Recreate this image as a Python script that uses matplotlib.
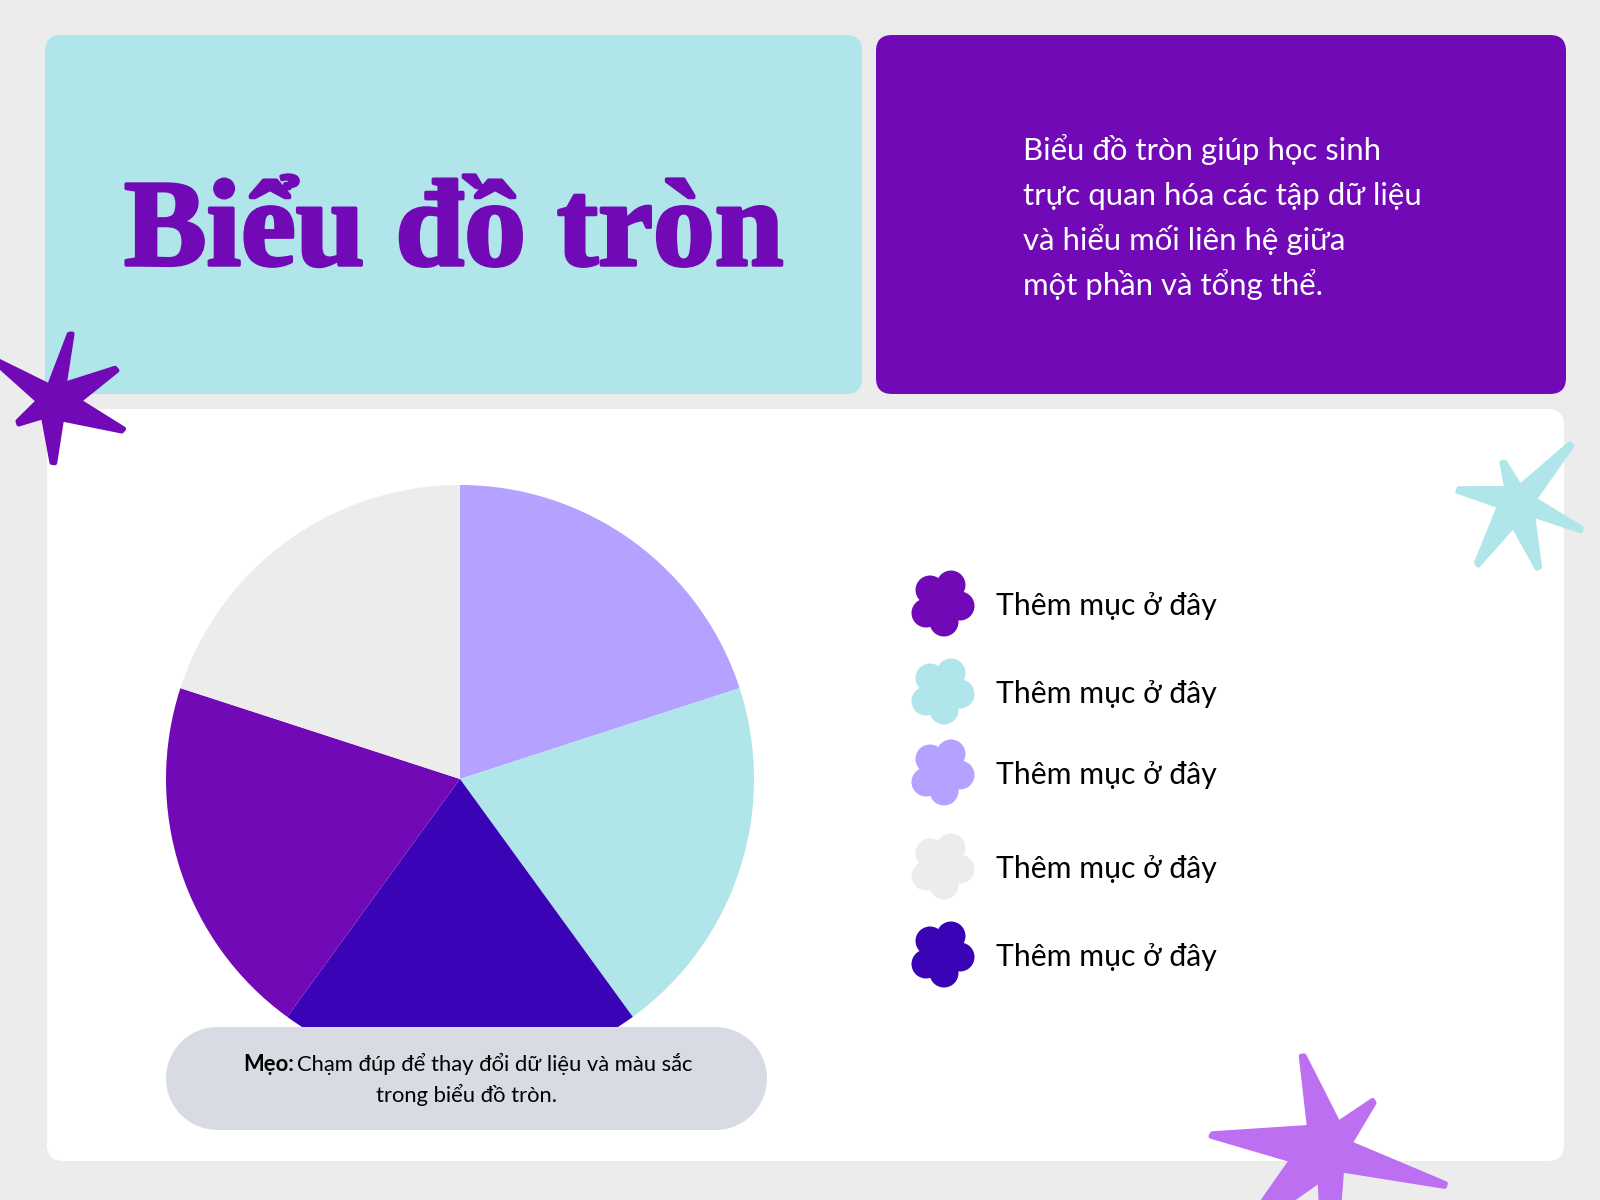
import numpy as np
import matplotlib
matplotlib.use("Agg")
import matplotlib.pyplot as plt
import matplotlib.patheffects as pe
from matplotlib.patches import FancyBboxPatch, Polygon, Circle, Rectangle

plt.rcParams['font.family'] = ['Lato', 'Noto Sans', 'DejaVu Sans']

# chart data
categories = ["Thêm mục ở đây"] * 5
slice_values = [20, 20, 20, 20, 20]
slice_colors = ["#B5A1FF", "#B0E5E9", "#3A03B5", "#7209B7", "#ECECEC"]
legend_colors = ["#7209B7", "#B0E5E9", "#B5A1FF", "#ECECEC", "#3A03B5"]
legend_rows = [603, 691, 772, 866, 954]

title = "Biểu đồ tròn"
intro_lines = ["Biểu đồ tròn giúp học sinh", "trực quan hóa các tập dữ liệu",
               "và hiểu mối liên hệ giữa", "một phần và tổng thể."]

BG = "#ECECEC"
CYAN = "#B0E5E9"
PURPLE = "#7209B7"
PILL = "#D8DBE3"


def Y(y):
    # picture pixels count from the top, the axes from the bottom
    return 1200 - y


def panel(x0, y0, x1, y1, color, r=16, z=1):
    ax.add_patch(FancyBboxPatch((x0 + r, Y(y1) + r), x1 - x0 - 2 * r, y1 - y0 - 2 * r,
                                boxstyle=f"round,pad={r},rounding_size={r}",
                                fc=color, ec="none", zorder=z))


def star(points, tips, x0, y0, color, z=6):
    pts = [np.array([x0 + px / 3, Y(y0 + py / 3)]) for px, py in points]
    xy = []
    for i, p in enumerate(pts):
        if i in tips:
            u = pts[(i + 1) % len(pts)] - pts[i - 1]
            u = u / np.hypot(*u)
            xy += [p - u * 1.5, p + u * 1.5]
        else:
            xy.append(p)
    ax.add_patch(Polygon(xy, closed=True, fc=color, ec=color, lw=3.5,
                         joinstyle="round", zorder=z))


def flower(cx, cy, color):
    ax.add_patch(Circle((cx, Y(cy)), 21, fc=color, ec="none", zorder=4))
    for dx, dy in [(8, -18), (17, 3), (1, 19), (-17, 10), (-13, -13)]:
        ax.add_patch(Circle((cx + dx, Y(cy + dy)), 14.5, fc=color, ec="none", zorder=4))


fig = plt.figure(figsize=(16, 12), dpi=100, facecolor=BG)
ax = fig.add_axes([0, 0, 1, 1])

panel(45, 35, 862, 394, CYAN)
panel(876, 35, 1566, 394, PURPLE)
panel(47, 409, 1564, 1161, "white", z=2)

wedges, _ = ax.pie(slice_values, colors=slice_colors, startangle=90, counterclock=False,
                   center=(460, Y(779)), radius=294, frame=True)
for w in wedges:
    w.set_zorder(3)

ax.set_xlim(0, 1600)
ax.set_ylim(0, 1200)
ax.set_aspect("equal")
ax.axis("off")

# title and intro
ax.text(454, Y(265), title, family="Liberation Serif", weight="bold", fontsize=89,
        color=PURPLE, ha="center", va="baseline", zorder=5,
        path_effects=[pe.withStroke(linewidth=2.5, foreground=PURPLE)])
for line, y in zip(intro_lines, [160, 205, 250, 295]):
    ax.text(1023, Y(y), line, fontsize=22.4, color="white", va="baseline", zorder=5)

# legend
for name, col, y in zip(categories, legend_colors, legend_rows):
    flower(943, y, col)
    ax.text(996, Y(y + 12), name, fontsize=21.7, color="black", va="baseline", zorder=5)

# tip box
ax.add_patch(Rectangle((217, Y(1130)), 499, 103, fc=PILL, ec="none", zorder=5))
ax.add_patch(Circle((217.5, Y(1078.5)), 51.5, fc=PILL, ec="none", zorder=5))
ax.add_patch(Circle((715.5, Y(1078.5)), 51.5, fc=PILL, ec="none", zorder=5))
ax.text(243, Y(1071), "Mẹo:", fontsize=15.8, weight="bold", color="black", va="baseline", zorder=6)
ax.text(297, Y(1071), "Chạm đúp để thay đổi dữ liệu và màu sắc", fontsize=15.8, color="black",
        va="baseline", zorder=6)
ax.text(466, Y(1102), "trong biểu đồ tròn.", fontsize=15.8, color="black", ha="center",
        va="baseline", zorder=6)

# stars
star([(212, 42), (193, 193), (348, 148), (237, 243), (368, 330), (185, 297), (160, 428),
      (130, 290), (55, 308), (115, 243), (-10, 125), (148, 198)],
     [0, 2, 4, 6, 8, 10], 0, 320, PURPLE)
star([(392, 45), (283, 208), (423, 298), (278, 255), (295, 413), (220, 287), (112, 402),
      (178, 228), (55, 180), (200, 175), (190, 97), (240, 170)],
     [0, 2, 4, 6, 8, 10], 1440, 430, CYAN)
star([(338, 48), (445, 250), (550, 185), (480, 310), (765, 435), (455, 390), (445, 520),
      (395, 520), (390, 420), (290, 490), (200, 510), (305, 360), (65, 285), (358, 262)],
     [0, 2, 4, 12], 1190, 1040, "#BC6FF1")

fig.savefig("out.png", dpi=100, facecolor=BG)
